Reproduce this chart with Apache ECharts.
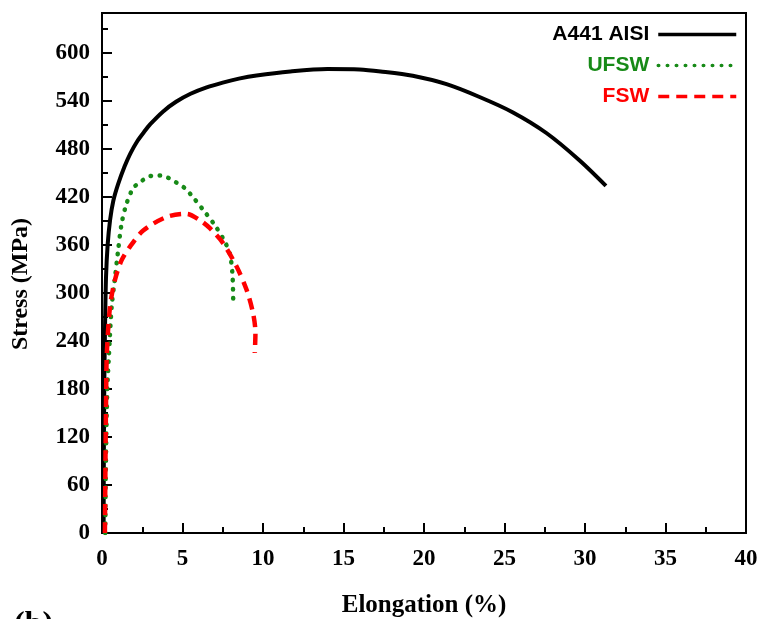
<!DOCTYPE html>
<html>
<head>
<meta charset="utf-8">
<script src="https://cdn.jsdelivr.net/npm/echarts@6/dist/echarts.min.js"></script>
<style>html,body{margin:0;padding:0;background:#fff;}#c{width:763px;height:619px;}</style>
</head>
<body>
<div id="c"></div>
<script>
const seriesNames = ['A441 AISI', 'UFSW', 'FSW'];
const xTicks = [0, 5, 10, 15, 20, 25, 30, 35, 40];
const yTicks = [0, 60, 120, 180, 240, 300, 360, 420, 480, 540, 600];
const xTitle = 'Elongation (%)';
const yTitle = 'Stress (MPa)';

const a441 = [[0.1,0],[0.12,120],[0.15,200],[0.19,260],[0.25,320],[0.35,360],[0.5,391],[0.7,415],[1.0,436],[1.4,458],[1.75,474],[2.2,490],[2.6,501],[3.0,511],[3.8,527],[4.6,539],[5.5,549],[6.5,557],[7.5,563],[8.5,568],[9.6,572],[11.7,577],[14,580],[16,579.5],[17.3,577],[19.3,571.5],[21.4,561],[23.45,545],[25.5,526],[27.6,500],[29.65,466],[31.3,434]];
const ufsw = [[0.2,0],[0.25,100],[0.33,180],[0.43,222],[0.6,283],[0.8,318],[1.0,353],[1.22,387],[1.53,412],[1.94,431],[2.46,440],[2.98,446],[3.6,447],[4.11,444],[4.63,438],[5.15,431],[5.56,422],[6.28,404],[7.0,385],[7.63,364],[7.94,349],[8.1,324],[8.15,291]];
const fsw = [[0.18,0],[0.22,100],[0.26,180],[0.3,225],[0.5,283],[0.8,316],[1.22,341],[1.74,358],[2.56,378],[4.01,395],[5.25,399],[6.08,391],[6.7,381],[7.53,362],[8.36,333],[8.98,304],[9.39,274],[9.53,250],[9.49,225]];

const colors = ['#000000', '#178a17', '#ff0000'];
const serif = 'Liberation Serif';

const chart = echarts.init(document.getElementById('c'), null, {renderer: 'canvas'});
chart.setOption({
  animation: false,
  backgroundColor: '#fff',
  grid: {left: 102, right: 17, top: 13, bottom: 86, containLabel: false, outerBoundsMode: 'none',
    show: true, borderColor: '#000', borderWidth: 2, backgroundColor: 'transparent'},
  legend: {
    orient: 'vertical', right: 20, top: 19, align: 'right',
    itemWidth: 78, itemHeight: 14, itemGap: 10,
    itemStyle: {opacity: 0},
    lineStyle: {width: 3.5},
    textStyle: {fontFamily: 'Liberation Sans', fontWeight: 'bold', fontSize: 21, padding: [0, 4, 0, 0]},
    data: seriesNames.map((n, i) => ({name: n, textStyle: {color: colors[i]}}))
  },
  xAxis: {
    type: 'value', min: xTicks[0], max: xTicks[xTicks.length - 1], interval: 5,
    name: xTitle, nameLocation: 'middle', nameGap: 60,
    nameTextStyle: {fontFamily: serif, fontWeight: 'bold', fontSize: 25, color: '#000'},
    axisLine: {lineStyle: {color: '#000', width: 2}},
    axisTick: {inside: true, length: 10, lineStyle: {width: 2, color: '#000'}},
    minorTick: {show: true, splitNumber: 2, length: 6, lineStyle: {width: 2, color: '#000'}},
    splitLine: {show: false},
    axisLabel: {fontFamily: serif, fontWeight: 'bold', fontSize: 23, color: '#000', margin: 15}
  },
  yAxis: {
    type: 'value', min: 0, max: 650, interval: 60,
    axisLine: {lineStyle: {color: '#000', width: 2}},
    axisTick: {inside: true, length: 10, lineStyle: {width: 2, color: '#000'}},
    minorTick: {show: true, splitNumber: 2, length: 6, lineStyle: {width: 2, color: '#000'}},
    splitLine: {show: false},
    axisLabel: {fontFamily: serif, fontWeight: 'bold', fontSize: 23, color: '#000', margin: 12, showMaxLabel: false,
      formatter: v => yTicks.includes(v) ? String(v) : ''}
  },
  graphic: [
    {type: 'text', left: 14, top: 609, style: {text: '(b)', font: 'bold 32px "Liberation Serif"', fill: '#000'}},
    {type: 'text', x: 21, y: 284, rotation: Math.PI / 2,
      style: {text: yTitle, font: 'bold 24px "Liberation Serif"', fill: '#000', align: 'center', verticalAlign: 'middle'}}
  ],
  series: [
    {name: seriesNames[0], type: 'line', data: a441, smooth: 0.3, symbol: 'none', color: colors[0],
      lineStyle: {width: 4, color: colors[0]}},
    {name: seriesNames[1], type: 'line', data: ufsw, smooth: 0.3, symbol: 'none', color: colors[1],
      lineStyle: {width: 4.5, color: colors[1], type: [0.5, 8.5], cap: 'round'}},
    {name: seriesNames[2], type: 'line', data: fsw, smooth: 0.3, symbol: 'none', color: colors[2],
      lineStyle: {width: 4.5, color: colors[2], type: [11, 7], cap: 'butt'}}
  ]
});
</script>
</body>
</html>
